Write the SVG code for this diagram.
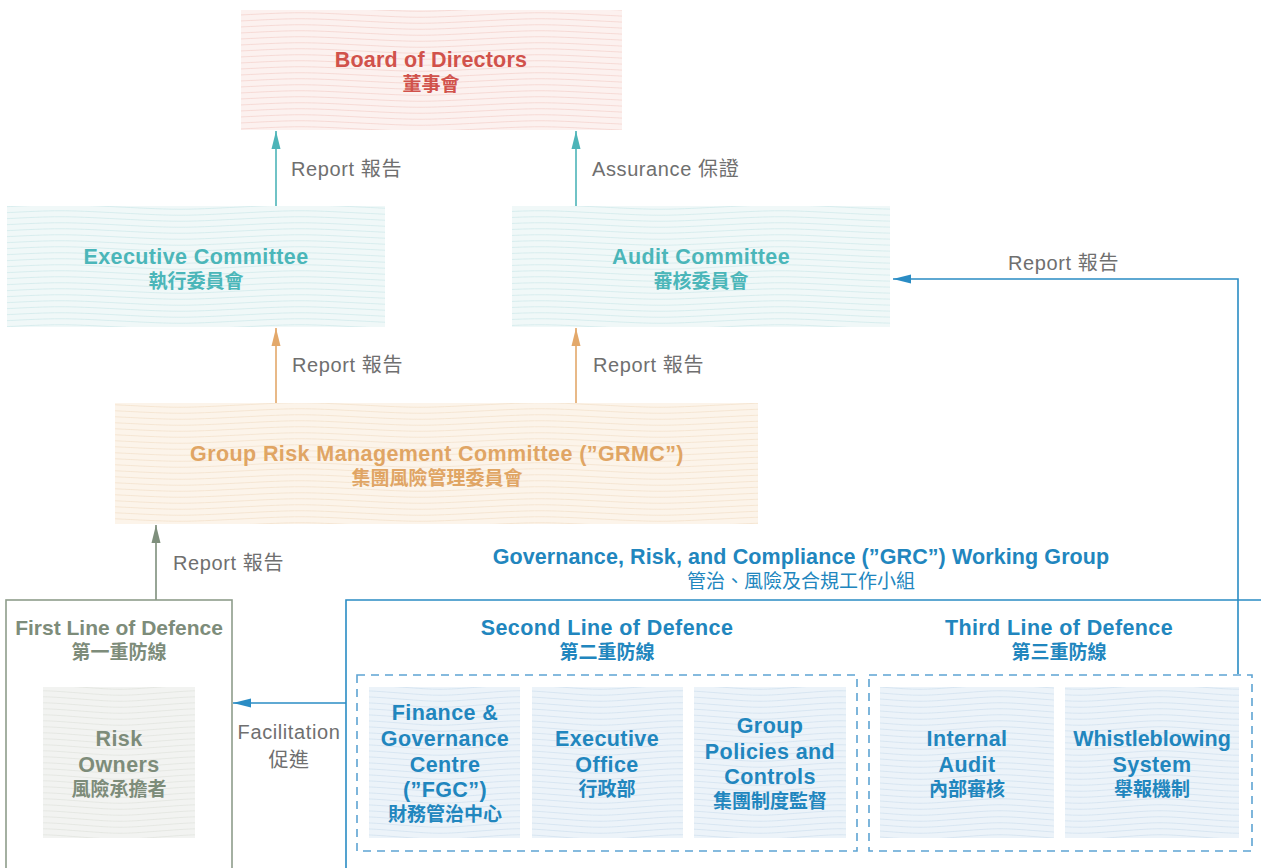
<svg xmlns="http://www.w3.org/2000/svg" width="1261" height="868" viewBox="0 0 1261 868">
<defs>
<style>
.t{font-family:"Liberation Sans","Noto Sans CJK TC",sans-serif;font-weight:bold;font-size:21.5px;letter-spacing:0.4px;text-anchor:middle}
.c{font-family:"Noto Sans CJK TC",sans-serif;font-weight:bold;font-size:19px;text-anchor:middle}
.lbl{font-family:"Liberation Sans","Noto Sans CJK TC",sans-serif;font-size:20px;letter-spacing:0.6px;fill:#6f6f6f}
.red{fill:#d1524b}.teal{fill:#4bb6b9}.org{fill:#e0a564}.grn{fill:#7d8c7a}.blu{fill:#2186be}
.dash{fill:none;stroke:#5ea4d3;stroke-width:1.6;stroke-dasharray:8 6}
</style>
<pattern id="wr" patternUnits="userSpaceOnUse" width="240" height="6"><rect width="240" height="6" fill="#fcf1ef"/><path d="M0 3 C60 0 60 0 120 3 S180 6 240 3" fill="none" stroke="#f3d0ca" stroke-width="0.7"/></pattern>
<pattern id="wt" patternUnits="userSpaceOnUse" width="240" height="6"><rect width="240" height="6" fill="#f0f8f8"/><path d="M0 3 C60 0 60 0 120 3 S180 6 240 3" fill="none" stroke="#cde8e9" stroke-width="0.7"/></pattern>
<pattern id="wo" patternUnits="userSpaceOnUse" width="240" height="6"><rect width="240" height="6" fill="#fcf4ea"/><path d="M0 3 C60 0 60 0 120 3 S180 6 240 3" fill="none" stroke="#f2dfc8" stroke-width="0.7"/></pattern>
<pattern id="wg" patternUnits="userSpaceOnUse" width="160" height="6"><rect width="160" height="6" fill="#f2f3f1"/><path d="M0 3 C40 0 40 0 80 3 S120 6 160 3" fill="none" stroke="#dfe2dc" stroke-width="0.7"/></pattern>
<pattern id="wb" patternUnits="userSpaceOnUse" width="160" height="6"><rect width="160" height="6" fill="#ecf3f9"/><path d="M0 3 C40 0 40 0 80 3 S120 6 160 3" fill="none" stroke="#cfdfee" stroke-width="0.7"/></pattern>
<marker id="aT" markerUnits="userSpaceOnUse" markerWidth="18" markerHeight="10" refX="18" refY="5" orient="auto"><path d="M0 0.5 L18 5 L0 9.5 Z" fill="#4db4b8"/></marker>
<marker id="aO" markerUnits="userSpaceOnUse" markerWidth="18" markerHeight="10" refX="18" refY="5" orient="auto"><path d="M0 0.5 L18 5 L0 9.5 Z" fill="#e3a86a"/></marker>
<marker id="aG" markerUnits="userSpaceOnUse" markerWidth="18" markerHeight="10" refX="18" refY="5" orient="auto"><path d="M0 0.5 L18 5 L0 9.5 Z" fill="#7e8f7c"/></marker>
<marker id="aB" markerUnits="userSpaceOnUse" markerWidth="18" markerHeight="10" refX="18" refY="5" orient="auto"><path d="M0 0.5 L18 5 L0 9.5 Z" fill="#2a8cc4"/></marker>
</defs>
<rect width="1261" height="868" fill="#ffffff"/>

<g id="connectors" fill="none" stroke-width="1.6">
<path d="M276 207 V131" stroke="#4db4b8" marker-end="url(#aT)"/>
<path d="M576 207 V131" stroke="#4db4b8" marker-end="url(#aT)"/>
<path d="M276 403 V328" stroke="#e3a86a" marker-end="url(#aO)"/>
<path d="M576 403 V328" stroke="#e3a86a" marker-end="url(#aO)"/>
<path d="M156 600 V525" stroke="#7e8f7c" marker-end="url(#aG)"/>
<path d="M1238 674 V279 H893" stroke="#2a8cc4" marker-end="url(#aB)"/>
<path d="M346 703 H233" stroke="#2a8cc4" marker-end="url(#aB)"/>
<text class="lbl" x="291" y="176">Report 報告</text>
<text class="lbl" x="592" y="176">Assurance 保證</text>
<text class="lbl" x="1008" y="270">Report 報告</text>
<text class="lbl" x="292" y="372">Report 報告</text>
<text class="lbl" x="593" y="372">Report 報告</text>
<text class="lbl" x="173" y="570">Report 報告</text>
<text class="lbl" x="289" y="739" text-anchor="middle">Facilitation</text>
<text class="lbl" x="289" y="767" text-anchor="middle">促進</text>
</g>

<g id="board">
<rect x="241" y="10" width="381" height="120" fill="url(#wr)"/>
<text class="t red" x="431" y="67" style="letter-spacing:0.2px">Board of Directors</text>
<text class="c red" x="431" y="91">董事會</text>
</g>
<g id="exec-committee">
<rect x="7" y="206" width="378" height="121" fill="url(#wt)"/>
<text class="t teal" x="196" y="264">Executive Committee</text>
<text class="c teal" x="196" y="288">執行委員會</text>
</g>
<g id="audit-committee">
<rect x="512" y="206" width="378" height="121" fill="url(#wt)"/>
<text class="t teal" x="701" y="264">Audit Committee</text>
<text class="c teal" x="701" y="288">審核委員會</text>
</g>
<g id="grmc">
<rect x="115" y="403" width="643" height="121" fill="url(#wo)"/>
<text class="t org" x="437" y="461">Group Risk Management Committee (”GRMC”)</text>
<text class="c org" x="437" y="485">集團風險管理委員會</text>
</g>

<g id="first-line">
<rect x="6" y="600" width="226" height="290" fill="none" stroke="#8e9d8b" stroke-width="1.6"/>
<text class="t grn" x="119" y="635" style="letter-spacing:0;font-size:21px">First Line of Defence</text>
<text class="c grn" x="119" y="659">第一重防線</text>
</g>
<g id="risk-owners">
<rect x="43" y="687" width="152" height="151" fill="url(#wg)"/>
<text class="t grn" x="119" y="746">Risk</text>
<text class="t grn" x="119" y="772">Owners</text>
<text class="c grn" x="119" y="796">風險承擔者</text>
</g>

<g id="grc">
<path d="M346 868 V600 H1261" fill="none" stroke="#2a8cc4" stroke-width="1.6"/>
<text class="t blu" x="801" y="564" style="letter-spacing:0.1px">Governance, Risk, and Compliance (”GRC”) Working Group</text>
<text class="c blu" x="801" y="588" style="font-weight:normal">管治、風險及合規工作小組</text>
</g>

<g id="second-line">
<text class="t blu" x="607" y="635">Second Line of Defence</text>
<text class="c blu" x="607" y="659">第二重防線</text>
<rect class="dash" x="357" y="675" width="500" height="176"/>
</g>
<g id="fgc">
<rect x="369" y="687" width="151" height="151" fill="url(#wb)"/>
<text class="t blu" x="445" y="720">Finance &amp;</text>
<text class="t blu" x="445" y="746">Governance</text>
<text class="t blu" x="445" y="772">Centre</text>
<text class="t blu" x="445" y="797">(”FGC”)</text>
<text class="c blu" x="445" y="821">財務管治中心</text>
</g>
<g id="executive-office">
<rect x="532" y="687" width="151" height="151" fill="url(#wb)"/>
<text class="t blu" x="607" y="746">Executive</text>
<text class="t blu" x="607" y="772">Office</text>
<text class="c blu" x="607" y="796">行政部</text>
</g>
<g id="group-policies">
<rect x="694" y="687" width="152" height="151" fill="url(#wb)"/>
<text class="t blu" x="770" y="733">Group</text>
<text class="t blu" x="770" y="759">Policies and</text>
<text class="t blu" x="770" y="784">Controls</text>
<text class="c blu" x="770" y="808">集團制度監督</text>
</g>

<g id="third-line">
<text class="t blu" x="1059" y="635">Third Line of Defence</text>
<text class="c blu" x="1059" y="659">第三重防線</text>
<rect class="dash" x="869" y="675" width="383" height="176"/>
</g>
<g id="internal-audit">
<rect x="880" y="687" width="174" height="151" fill="url(#wb)"/>
<text class="t blu" x="967" y="746">Internal</text>
<text class="t blu" x="967" y="772">Audit</text>
<text class="c blu" x="967" y="796">內部審核</text>
</g>
<g id="whistleblowing">
<rect x="1065" y="687" width="174" height="151" fill="url(#wb)"/>
<text class="t blu" x="1152" y="746" style="letter-spacing:0">Whistleblowing</text>
<text class="t blu" x="1152" y="772">System</text>
<text class="c blu" x="1152" y="796">舉報機制</text>
</g>
</svg>
